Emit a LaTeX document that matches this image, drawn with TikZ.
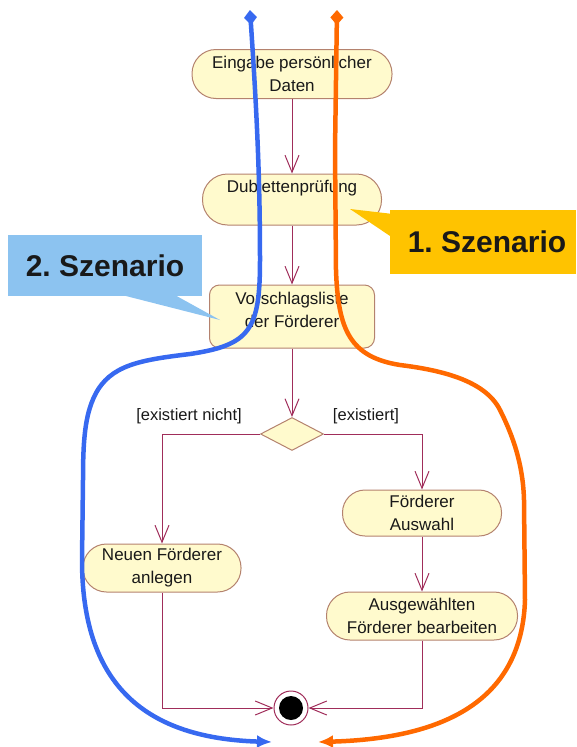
\documentclass[tikz,border=0pt]{standalone}
\usepackage{fontspec}
\setmainfont{Liberation Sans}
\usetikzlibrary{arrows.meta,shapes.geometric}
\definecolor{flowc}{RGB}{160,45,90}
\definecolor{boxline}{RGB}{180,130,110}
\definecolor{boxfill}{RGB}{255,250,205}
\definecolor{txtc}{RGB}{25,25,25}
\definecolor{goldc}{RGB}{255,195,0}
\definecolor{skyc}{RGB}{140,195,240}
\definecolor{bluec}{RGB}{55,105,240}
\definecolor{orangec}{RGB}{255,105,0}
\frenchspacing
\begin{document}
\begin{tikzpicture}[x=1pt,y=-1pt,
  actbox/.style={draw=boxline, fill=boxfill, line width=1pt, inner sep=0pt, align=center,
    font=\fontsize{17}{23}\selectfont, text=txtc},
  txtnode/.style={inner sep=0pt, align=center, font=\fontsize{17}{23}\selectfont, text=txtc},
  guard/.style={inner sep=0pt, font=\fontsize{16.5}{20}\selectfont, text=txtc},
  flow/.style={draw=flowc, line width=1pt, -{Straight Barb[length=17pt,width=14pt]}},
  callout/.style={inner sep=0pt, font=\fontsize{30}{34}\selectfont\bfseries, text=black!90},
  scen/.style={line width=4.5pt, {Kite[length=15pt,width=13pt,inset=7.5pt]}-{Latex[length=15pt,width=13pt]}}
]
\useasboundingbox (0,0) rectangle (577,747);

% activity nodes
\node[actbox, rounded corners=24pt, minimum width=200, minimum height=49] (n1) at (292,74) {Eingabe persönlicher\\Daten};
\node[actbox, rounded corners=25pt, minimum width=179, minimum height=51] (n2) at (292,199.5) {};
\node[txtnode] (n2t) at (292,188) {Dublettenprüfung};
\node[actbox, rounded corners=10pt, minimum width=165, minimum height=63] (n3) at (292,316.5) {};
\node[txtnode] (n3t) at (292,309.5) {Vorschlagsliste\\der Förderer};
\node[diamond, draw=boxline, fill=boxfill, line width=1pt, inner sep=0pt, minimum width=63, minimum height=33] (d) at (292,434) {};
\node[actbox, rounded corners=23.5pt, minimum width=158, minimum height=48] (n4) at (162,568) {Neuen Förderer\\anlegen};
\node[actbox, rounded corners=22.5pt, minimum width=159, minimum height=46] (n5) at (422,513) {Förderer\\Auswahl};
\node[actbox, rounded corners=23.5pt, minimum width=191, minimum height=48] (n6) at (422,616) {Ausgewählten\\Förderer bearbeiten};
\node[circle, draw=flowc, fill=white, line width=1pt, minimum size=34, inner sep=0pt] (f) at (291,708) {};
\node[circle, fill=black, minimum size=24, inner sep=0pt] (fi) at (291,708) {};

% guards
\node[guard] (g1) at (189,416) {[existiert nicht]};
\node[guard] (g2) at (366,416) {[existiert]};

% flows
\draw[flow] (n1) -- (n2);
\draw[flow] (n2) -- (n3);
\draw[flow] (n3) -- (d);
\draw[flow] (d.west) -| (n4.north);
\draw[flow] (d.east) -| (n5.north);
\draw[flow] (n5) -- (n6);
\draw[flow] (n4.south) |- (f.west);
\draw[flow] (n6.south) |- (f.east);

% callouts
\fill[goldc] (393,214) -- (350,209) -- (393,238) -- cycle;
\node[callout, fill=goldc, minimum width=186, minimum height=64] (s1) at (483,242) {};
\node[callout] (s1t) at (487,242) {1. Szenario};
\fill[skyc] (118,294) -- (220,320) -- (173,294) -- cycle;
\node[callout, fill=skyc, minimum width=194, minimum height=61] (s2) at (105,265.5) {2. Szenario};

% scenario curves
\draw[scen, draw=bluec] (250,10) .. controls (256,100) and (260,170) .. (260,260)
  .. controls (260,330) and (250,345) .. (190,354)
  .. controls (140,360) and (110,365) .. (95,395)
  .. controls (85,415) and (83,440) .. (83,480)
  -- (82,560) .. controls (82,680) and (140,738) .. (272,742);
\draw[scen, draw=orangec] (337,10) -- (335,150) -- (336,270)
  .. controls (338,330) and (350,357) .. (400,365)
  .. controls (440,370) and (485,380) .. (500,410)
  .. controls (510,430) and (523,460) .. (524,500)
  -- (525,600)
  .. controls (522,690) and (460,738) .. (318,742);
\end{tikzpicture}
\end{document}
